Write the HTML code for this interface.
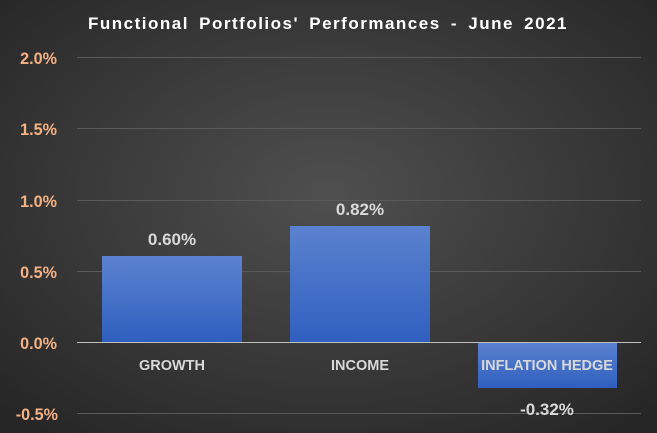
<!DOCTYPE html>
<html><head><meta charset="utf-8"><style>
html,body{margin:0;padding:0;width:657px;height:433px;overflow:hidden;background:#333}
svg{display:block}
text{font-family:"Liberation Sans",sans-serif;font-weight:bold}
</style></head><body>
<svg width="657" height="433" viewBox="0 0 657 433">
<defs>
<radialGradient id="bg" cx="50%" cy="45%" r="70%">
<stop offset="0" stop-color="#4f4f4f"/><stop offset="1" stop-color="#262626"/>
</radialGradient>
<linearGradient id="bar" x1="0" y1="0" x2="0" y2="1">
<stop offset="0" stop-color="#5b82cf"/><stop offset="1" stop-color="#2f5fbf"/>
</linearGradient>
</defs>
<rect width="657" height="433" fill="url(#bg)"/>
<text x="328" y="29" fill="#fff" font-size="17" text-anchor="middle" letter-spacing="1.5" word-spacing="4">Functional Portfolios' Performances - June 2021</text>
<g stroke="#5a5a5a" stroke-width="1">
<line x1="77" y1="57.5" x2="641" y2="57.5"/>
<line x1="77" y1="128.5" x2="641" y2="128.5"/>
<line x1="77" y1="200.5" x2="641" y2="200.5"/>
<line x1="77" y1="271.5" x2="641" y2="271.5"/>
<line x1="77" y1="413.5" x2="641" y2="413.5"/>
</g>
<g fill="#f4b183" font-size="17" text-anchor="end" transform="scale(0.95,1)">
<text x="60" y="64">2.0%</text>
<text x="60" y="135">1.5%</text>
<text x="60" y="207">1.0%</text>
<text x="60" y="278">0.5%</text>
<text x="60" y="349">0.0%</text>
<text x="61" y="420">-0.5%</text>
</g>
<rect x="102" y="256" width="140" height="86" fill="url(#bar)"/>
<rect x="290" y="226" width="140" height="116" fill="url(#bar)"/>
<rect x="478" y="342" width="139" height="46" fill="url(#bar)"/>
<line x1="77" y1="342.5" x2="641" y2="342.5" stroke="#bfbfbf" stroke-width="1"/>
<g fill="#d9d9d9" font-size="17" text-anchor="middle">
<text x="172" y="245">0.60%</text>
<text x="360" y="215">0.82%</text>
<text x="547" y="415">-0.32%</text>
</g>
<g fill="#d9d9d9" font-size="14.5" text-anchor="middle">
<text x="172" y="370">GROWTH</text>
<text x="360" y="370">INCOME</text>
<text x="547" y="370">INFLATION HEDGE</text>
</g>
</svg>
</body></html>
